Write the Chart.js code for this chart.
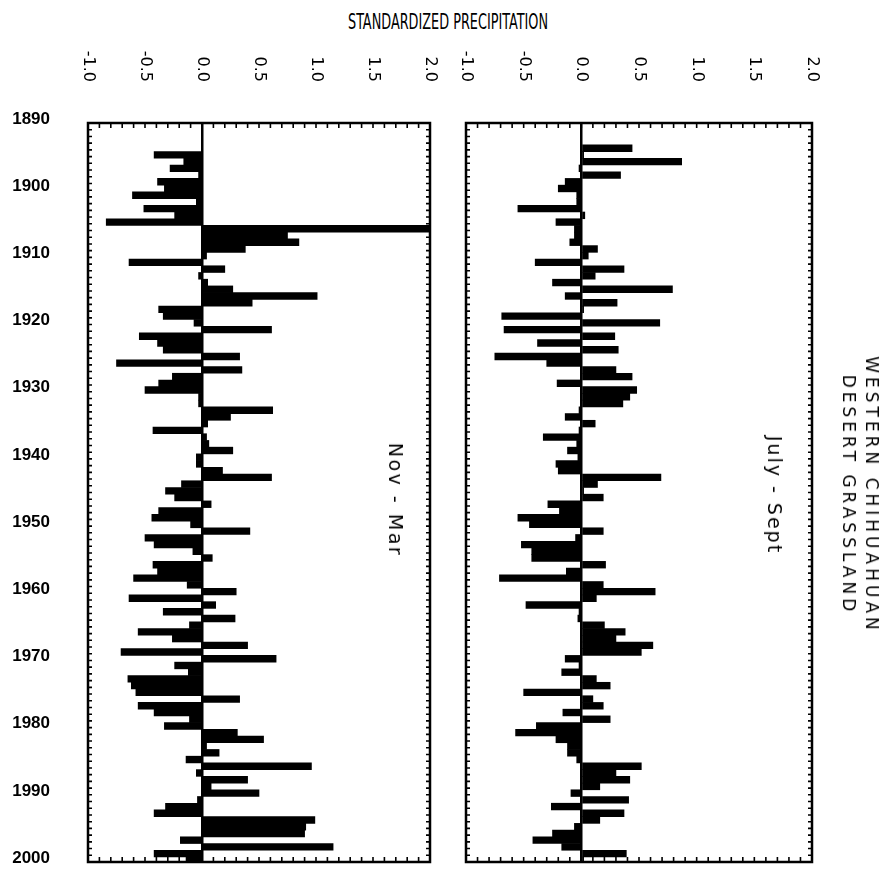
<!DOCTYPE html>
<html>
<head>
<meta charset="utf-8">
<script src="https://cdn.jsdelivr.net/npm/chart.js@4.4.1/dist/chart.umd.min.js"></script>
<style>
    html, body { margin: 0; padding: 0; background: #fff; }
    #wrap { position: relative; width: 890px; height: 890px; overflow: hidden; color: #000; font-family: 'Liberation Sans', Arial, sans-serif; }
    .panel { position: absolute; top: 0; }
    .rot { position: absolute; transform: translate(-50%, -50%) rotate(90deg); white-space: nowrap; text-align: center; }
    #title { position: absolute; left: 448px; top: 22px; transform: translate(-50%, -50%) scaleX(0.68); white-space: nowrap; font: 21px 'Liberation Sans Narrow', 'DejaVu Sans Condensed', sans-serif; }
    #season1 { left: 396px; top: 500px; font: 19px 'DejaVu Sans', sans-serif; letter-spacing: 2.5px; }
    #season2 { left: 775px; top: 495px; font: 19px 'DejaVu Sans', sans-serif; letter-spacing: 2px; }
    #region { left: 860px; top: 495px; font: 17px 'DejaVu Sans', sans-serif; line-height: 23px; letter-spacing: 4px; }
</style>
</head>
<body>
<div id="wrap">
    <div id="title">STANDARDIZED PRECIPITATION</div>
    <canvas id="novMarChart" class="panel" width="445" height="890" style="left:0"></canvas>
    <canvas id="julSepChart" class="panel" width="445" height="890" style="left:445px"></canvas>
    <div id="season1" class="rot">Nov - Mar</div>
    <div id="season2" class="rot">July - Sept</div>
    <div id="region" class="rot">WESTERN CHIHUAHUAN<br>DESERT GRASSLAND</div>
</div>
<script>
// years of the record (one bar per year)
const years = [
    1893, 1894, 1895, 1896, 1897, 1898, 1899,
    1900, 1901, 1902, 1903, 1904, 1905, 1906, 1907, 1908, 1909,
    1910, 1911, 1912, 1913, 1914, 1915, 1916, 1917, 1918, 1919,
    1920, 1921, 1922, 1923, 1924, 1925, 1926, 1927, 1928, 1929,
    1930, 1931, 1932, 1933, 1934, 1935, 1936, 1937, 1938, 1939,
    1940, 1941, 1942, 1943, 1944, 1945, 1946, 1947, 1948, 1949,
    1950, 1951, 1952, 1953, 1954, 1955, 1956, 1957, 1958, 1959,
    1960, 1961, 1962, 1963, 1964, 1965, 1966, 1967, 1968, 1969,
    1970, 1971, 1972, 1973, 1974, 1975, 1976, 1977, 1978, 1979,
    1980, 1981, 1982, 1983, 1984, 1985, 1986, 1987, 1988, 1989,
    1990, 1991, 1992, 1993, 1994, 1995, 1996, 1997, 1998, 1999
];

// Nov - Mar standardized precipitation
const novMar = [
    null, -0.42, -0.16, -0.28, -0.03, -0.39, -0.33,
    -0.61, -0.05, -0.51, -0.24, -0.84, 2.00, 0.75, 0.85, 0.38, 0.04,
    -0.64, 0.20, -0.03, 0.05, 0.27, 1.01, 0.44, -0.38, -0.34, -0.07,
    0.61, -0.55, -0.39, -0.34, 0.33, -0.75, 0.35, -0.26, -0.38, -0.50,
    -0.03, -0.03, 0.62, 0.25, 0.05, -0.43, 0.04, 0.06, 0.27, -0.05,
    -0.05, 0.18, 0.61, -0.18, -0.32, -0.24, 0.08, -0.38, -0.44, -0.10,
    0.42, -0.50, -0.42, -0.08, 0.09, -0.43, -0.39, -0.60, -0.13, 0.30,
    -0.64, 0.12, -0.34, 0.29, -0.11, -0.56, -0.26, 0.40, -0.71, 0.65,
    -0.24, -0.12, -0.65, -0.62, -0.58, 0.33, -0.56, -0.42, -0.11, -0.33,
    0.31, 0.54, 0.04, 0.15, -0.14, 0.96, -0.05, 0.40, 0.08, 0.50,
    -0.04, -0.32, -0.42, 0.99, 0.91, 0.90, -0.19, 1.15, -0.42, -0.14
];

// July - Sept standardized precipitation
const julySept = [
    0.44, 0.02, 0.87, -0.02, 0.34, -0.14, -0.20,
    -0.04, -0.04, -0.55, 0.03, -0.22, -0.06, -0.06, -0.10, 0.14, 0.06,
    -0.40, 0.37, 0.12, -0.25, 0.79, -0.14, 0.31, 0.02, -0.69, 0.68,
    -0.67, 0.29, -0.38, 0.32, -0.75, -0.30, 0.30, 0.44, -0.21, 0.48,
    0.42, 0.36, -0.02, -0.14, 0.12, -0.02, -0.33, -0.04, -0.12, -0.03,
    -0.22, -0.20, 0.69, 0.14, 0.02, 0.19, -0.29, -0.19, -0.55, -0.45,
    0.19, -0.05, -0.52, -0.43, -0.43, 0.21, -0.13, -0.71, 0.19, 0.64,
    0.13, -0.48, -0.02, -0.03, 0.20, 0.38, 0.30, 0.62, 0.52, -0.14,
    -0.02, -0.17, 0.13, 0.25, -0.50, 0.10, 0.19, -0.16, 0.25, -0.39,
    -0.57, -0.22, -0.12, -0.12, -0.04, 0.52, 0.30, 0.42, 0.16, -0.09,
    0.41, -0.26, 0.37, 0.16, -0.06, -0.25, -0.42, -0.17, 0.39, 0.02
];

const xTickValues = [-1.0, -0.5, 0.0, 0.5, 1.0, 1.5, 2.0];
const xTickLabels = ['-1.0', '-0.5', '0.0', '0.5', '1.0', '1.5', '2.0'];
const yearTicks = [1890, 1900, 1910, 1920, 1930, 1940, 1950, 1960, 1970, 1980, 1990, 2000];

// box, inward ruler ticks and the rotated value labels above each panel
const rulerPlugin = {
    id: 'ruler',
    afterDraw(chart) {
        const { ctx, chartArea: a, scales: { x, y } } = chart;
        ctx.save();
        ctx.strokeStyle = '#000';
        ctx.lineWidth = 1.6;
        ctx.beginPath();
        for (let i = -10; i <= 20; i++) {
            const px = x.getPixelForValue(i / 10);
            ctx.moveTo(px, a.top); ctx.lineTo(px, a.top + 5);
            ctx.moveTo(px, a.bottom); ctx.lineTo(px, a.bottom - 5);
        }
        for (let yr = yearTicks[0]; yr <= yearTicks[yearTicks.length - 1]; yr++) {
            const py = y.getPixelForValue(yr);
            ctx.moveTo(a.left, py); ctx.lineTo(a.left + 4, py);
            ctx.moveTo(a.right, py); ctx.lineTo(a.right - 4, py);
        }
        ctx.stroke();
        ctx.lineWidth = 2.5;
        ctx.strokeRect(a.left, a.top, a.right - a.left, a.bottom - a.top);

        ctx.fillStyle = '#000';
        ctx.font = "16px 'DejaVu Sans', sans-serif";
        ctx.textAlign = 'right';
        ctx.textBaseline = 'middle';
        xTickValues.forEach((v, i) => {
            ctx.save();
            ctx.translate(x.getPixelForValue(v), 82);
            ctx.rotate(Math.PI / 2);
            ctx.fillText(xTickLabels[i], 0, 0);
            ctx.restore();
        });
        ctx.restore();
    }
};

function makePanel(canvasId, values, showYears, padding) {
    const points = [];
    years.forEach((yr, i) => {
        // each bar sits just under its year mark, as in the original plot
        if (values[i] !== null) points.push({ x: values[i], y: yr + 0.75 });
    });

    return new Chart(document.getElementById(canvasId), {
        type: 'bar',
        data: {
            datasets: [{
                data: points,
                backgroundColor: '#000',
                borderWidth: 0,
                barPercentage: 1.0,
                categoryPercentage: 1.0
            }]
        },
        options: {
            indexAxis: 'y',
            responsive: false,
            animation: false,
            layout: { padding: padding },
            plugins: { legend: { display: false }, tooltip: { enabled: false } },
            scales: {
                x: {
                    type: 'linear',
                    position: 'top',
                    min: -1.0,
                    max: 2.0,
                    afterFit: s => { s.height = 0; s.paddingLeft = 0; s.paddingRight = 0; },
                    ticks: { display: false, stepSize: 0.5 },
                    border: { display: false },
                    grid: {
                        drawTicks: false,
                        color: c => (c.tick && c.tick.value === 0 ? '#000' : 'rgba(0,0,0,0)'),
                        lineWidth: 2.5
                    }
                },
                y: {
                    type: 'linear',
                    reverse: true,
                    offset: false,
                    min: 1890,
                    max: 2000,
                    display: showYears,
                    afterFit: s => { s.width = showYears ? 88 : 0; s.paddingTop = 0; s.paddingBottom = 0; },
                    afterBuildTicks: s => { s.ticks = yearTicks.map(v => ({ value: v })); },
                    border: { display: false },
                    grid: { display: false, drawTicks: false },
                    ticks: {
                        padding: 38,
                        labelOffset: -4,
                        color: '#000',
                        font: { family: "'Liberation Sans', Arial, sans-serif", size: 17, weight: 'bold' },
                        callback: v => String(v)
                    }
                }
            }
        },
        plugins: [rulerPlugin]
    });
}

makePanel('novMarChart', novMar, true, { top: 123, bottom: 28, left: 0, right: 15 });
makePanel('julSepChart', julySept, false, { top: 123, bottom: 28, left: 21, right: 78 });
</script>
</body>
</html>
